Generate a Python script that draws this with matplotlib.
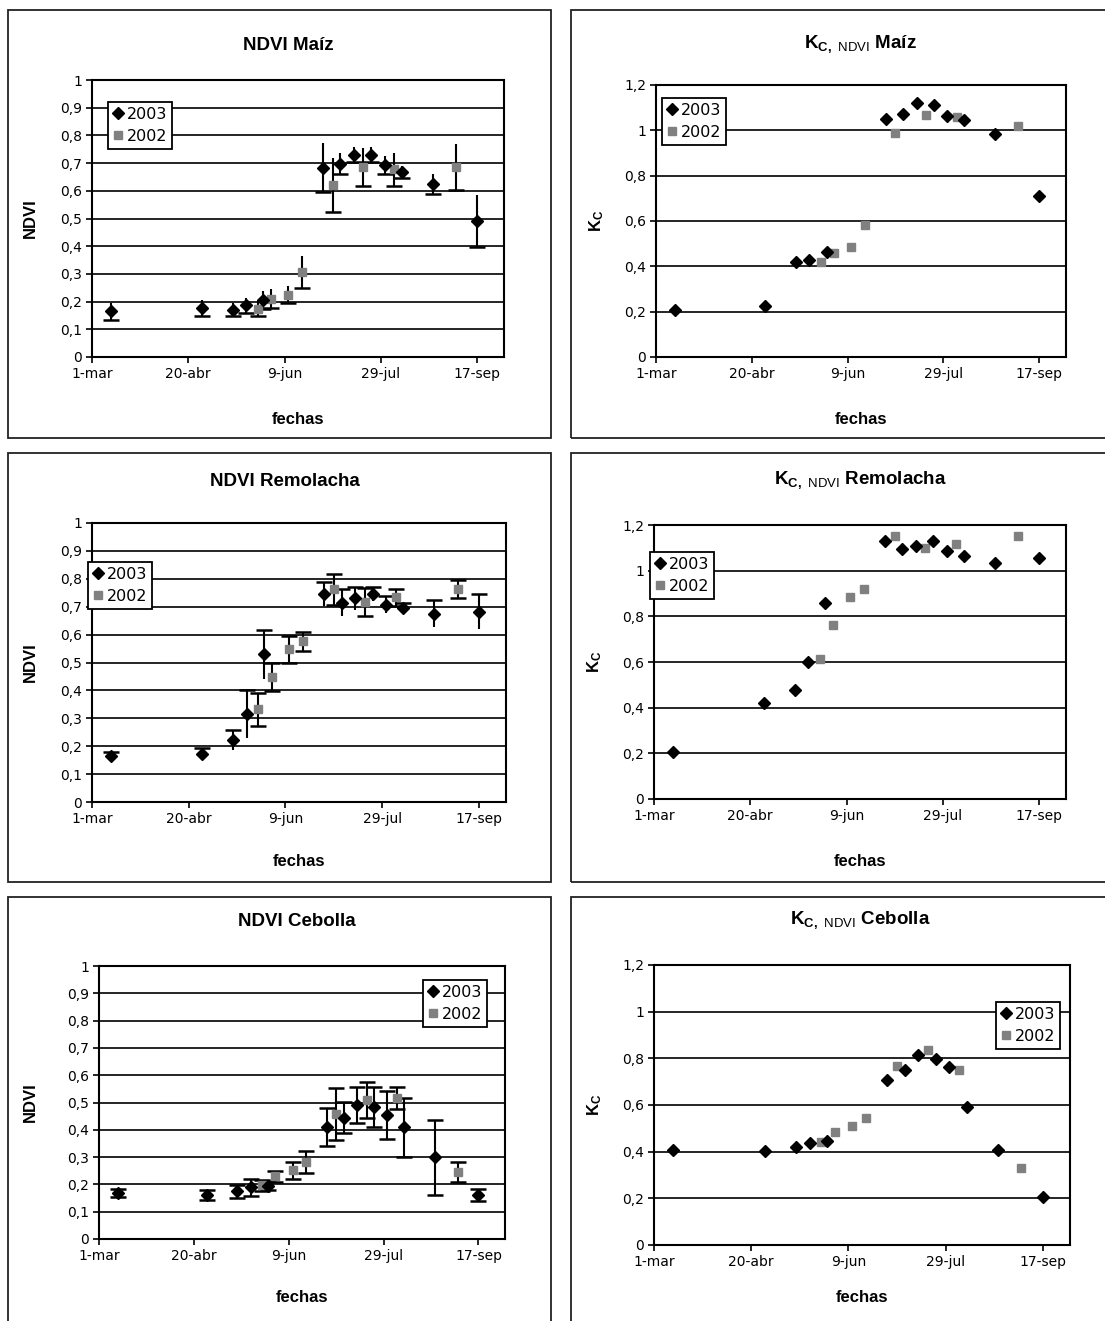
import numpy as np
import matplotlib.pyplot as plt
from matplotlib.patches import Rectangle

plt.rcParams['font.family'] = ['DejaVu Sans']
plt.rcParams['mathtext.fontset'] = 'custom'
plt.rcParams['mathtext.rm'] = 'Liberation Sans'
plt.rcParams['mathtext.bf'] = 'Liberation Sans:bold'

# fechas (dias desde 1-mar)
dates_2003 = np.array([10, 57, 73, 80, 89, 120, 129, 136, 145, 152, 161, 177, 200])
dates_2002 = np.array([86, 93, 102, 109, 125, 141, 157, 189])
xticks = [0, 50, 100, 150, 200]
xticklabels = ['1-mar', '20-abr', '9-jun', '29-jul', '17-sep']

# NDVI maiz
ndvi_maiz_2003 = [0.165, 0.177, 0.171, 0.186, 0.205, 0.683, 0.698, 0.731, 0.731, 0.692, 0.669, 0.625, 0.49]
err_maiz_2003 = [0.03, 0.029, 0.023, 0.028, 0.032, 0.088, 0.039, 0.026, 0.026, 0.033, 0.022, 0.036, 0.094]
ndvi_maiz_2002 = [0.175, 0.211, 0.225, 0.306, 0.62, 0.686, 0.677, 0.686]
err_maiz_2002 = [0.026, 0.034, 0.03, 0.057, 0.097, 0.067, 0.058, 0.084]

# Kc maiz
kc_maiz_2003 = [0.209, 0.226, 0.42, 0.429, 0.465, 1.051, 1.072, 1.122, 1.113, 1.065, 1.044, 0.984, 0.709]
kc_maiz_2002 = [0.418, 0.46, 0.485, 0.582, 0.988, 1.068, 1.059, 1.021]

# NDVI remolacha
ndvi_rem_2003 = [0.164, 0.172, 0.222, 0.314, 0.529, 0.744, 0.714, 0.73, 0.747, 0.707, 0.695, 0.675, 0.682]
err_rem_2003 = [0.016, 0.022, 0.035, 0.086, 0.089, 0.043, 0.048, 0.041, 0.025, 0.03, 0.019, 0.048, 0.062]
ndvi_rem_2002 = [0.332, 0.448, 0.547, 0.576, 0.762, 0.717, 0.734, 0.762]
err_rem_2002 = [0.06, 0.05, 0.048, 0.034, 0.055, 0.05, 0.03, 0.032]

# Kc remolacha
kc_rem_2003 = [0.208, 0.419, 0.479, 0.6, 0.86, 1.131, 1.096, 1.106, 1.132, 1.087, 1.063, 1.035, 1.054]
kc_rem_2002 = [0.613, 0.761, 0.884, 0.918, 1.153, 1.1, 1.118, 1.153]

# NDVI cebolla
ndvi_ceb_2003 = [0.168, 0.161, 0.174, 0.189, 0.195, 0.41, 0.445, 0.491, 0.483, 0.454, 0.41, 0.299, 0.161]
err_ceb_2003 = [0.015, 0.018, 0.025, 0.03, 0.016, 0.07, 0.057, 0.066, 0.073, 0.087, 0.108, 0.138, 0.022]
ndvi_ceb_2002 = [0.196, 0.229, 0.251, 0.283, 0.457, 0.509, 0.515, 0.245]
err_ceb_2002 = [0.02, 0.02, 0.03, 0.04, 0.095, 0.065, 0.04, 0.037]

# Kc cebolla
kc_ceb_2003 = [0.408, 0.401, 0.42, 0.437, 0.444, 0.709, 0.752, 0.815, 0.797, 0.762, 0.592, 0.408, 0.205]
kc_ceb_2002 = [0.44, 0.483, 0.509, 0.543, 0.766, 0.835, 0.751, 0.328]

W, H = 1105, 1321
fig = plt.figure(figsize=(W / 100, H / 100), dpi=100)
fig.patch.set_facecolor('white')

# marcos de cada grafico (pixeles)
boxes = [(8, 10, 551, 438), (571, 10, 1112, 438),
         (8, 453, 551, 882), (571, 453, 1112, 882),
         (8, 897, 551, 1330), (571, 897, 1112, 1330)]
for x0, y0, x1, y1 in boxes:
    fig.patches.append(Rectangle((x0 / W, 1 - y1 / H), (x1 - x0) / W, (y1 - y0) / H,
                                 transform=fig.transFigure, fill=False,
                                 edgecolor='#222222', linewidth=1.3))


def make_ax(l, t, r, b):
    return fig.add_axes([l / W, 1 - b / H, (r - l) / W, (b - t) / H])


def style(ax, ymax, ystep, ylab, title, tx, ty, yl_x, xl_y):
    ax.set_xlim(0, 214)
    ax.set_ylim(0, ymax)
    ax.set_xticks(xticks)
    ax.set_xticklabels(xticklabels, fontsize=10)
    yt = np.round(np.arange(0, ymax + 1e-9, ystep), 2)
    ax.set_yticks(yt)
    ax.set_yticklabels([('%g' % v).replace('.', ',') for v in yt], fontsize=10)
    ax.yaxis.grid(True, color='black', linewidth=1.2)
    ax.set_axisbelow(True)
    ax.tick_params(direction='out', length=4, width=1.2, pad=3)
    for s in ax.spines.values():
        s.set_linewidth(1.5)
    fig.text(tx / W, 1 - ty / H, title, ha='center', va='center',
             fontsize=13.5, fontweight='bold', family='Liberation Sans')
    pos = ax.get_position()
    fig.text(yl_x / W, pos.y0 + pos.height / 2, ylab, rotation=90, ha='center', va='center',
             fontsize=12, fontweight='bold', family='Liberation Sans')
    fig.text(pos.x0 + pos.width / 2, 1 - xl_y / H, 'fechas', ha='center', va='center',
             fontsize=12, fontweight='bold', family='Liberation Sans')


def errs(ax, x, y, e, caps):
    y = np.array(y)
    e = np.array(e)
    ax.vlines(x, y - e, y + e, color='black', linewidth=1.5, zorder=3)
    if caps in ('low', 'both'):
        ax.plot(x, y - e, '_', color='black', ms=11, mew=1.8, zorder=3)
    if caps in ('high', 'both'):
        ax.plot(x, y + e, '_', color='black', ms=11, mew=1.8, zorder=3)


def points(ax, y03, y02):
    ax.plot(dates_2002, y02, 's', color='#808080', ms=6, label='2002', zorder=4)
    ax.plot(dates_2003, y03, 'D', color='black', ms=6.5, label='2003', zorder=5)


def legend(ax, x0, y0):
    h, l = ax.get_legend_handles_labels()
    leg = ax.legend(h[::-1], l[::-1], loc='upper left', bbox_to_anchor=(x0 / W, 1 - y0 / H),
                    bbox_transform=fig.transFigure, borderaxespad=0, fancybox=False,
                    framealpha=1, edgecolor='black', fontsize=11.5, handlelength=0.6,
                    handletextpad=0.3, borderpad=0.3, labelspacing=0.45)
    leg.get_frame().set_linewidth(1.3)


kc_label = r'$\mathbf{K_C}$'

# NDVI Maiz
ax = make_ax(92, 80, 504, 357)
errs(ax, dates_2003, ndvi_maiz_2003, err_maiz_2003, 'low')
errs(ax, dates_2002, ndvi_maiz_2002, err_maiz_2002, 'low')
points(ax, ndvi_maiz_2003, ndvi_maiz_2002)
style(ax, 1.0, 0.1, 'NDVI', 'NDVI Maíz', 288, 45, 30, 420)
legend(ax, 108, 102)

# Kc Maiz
ax = make_ax(656, 85, 1066, 357)
points(ax, kc_maiz_2003, kc_maiz_2002)
style(ax, 1.2, 0.2, kc_label, r'$\mathbf{K}_{\mathbf{C,}\ \mathrm{NDVI}}$ Maíz', 860, 45, 597, 420)
legend(ax, 662, 98)

# NDVI Remolacha
ax = make_ax(92, 523, 506, 802)
errs(ax, dates_2003, ndvi_rem_2003, err_rem_2003, 'high')
errs(ax, dates_2002, ndvi_rem_2002, err_rem_2002, 'both')
points(ax, ndvi_rem_2003, ndvi_rem_2002)
style(ax, 1.0, 0.1, 'NDVI', 'NDVI Remolacha', 285, 481, 30, 862)
legend(ax, 88, 562)

# Kc Remolacha
ax = make_ax(654, 525, 1066, 799)
points(ax, kc_rem_2003, kc_rem_2002)
style(ax, 1.2, 0.2, kc_label, r'$\mathbf{K}_{\mathbf{C,}\ \mathrm{NDVI}}$ Remolacha', 860, 481, 595, 862)
legend(ax, 650, 552)

# NDVI Cebolla
ax = make_ax(99, 966, 505, 1239)
errs(ax, dates_2003, ndvi_ceb_2003, err_ceb_2003, 'both')
errs(ax, dates_2002, ndvi_ceb_2002, err_ceb_2002, 'both')
points(ax, ndvi_ceb_2003, ndvi_ceb_2002)
style(ax, 1.0, 0.1, 'NDVI', 'NDVI Cebolla', 297, 921, 30, 1297)
legend(ax, 423, 980)

# Kc Cebolla
ax = make_ax(654, 965, 1070, 1245)
points(ax, kc_ceb_2003, kc_ceb_2002)
style(ax, 1.2, 0.2, kc_label, r'$\mathbf{K}_{\mathbf{C,}\ \mathrm{NDVI}}$ Cebolla', 860, 921, 595, 1297)
legend(ax, 996, 1002)

fig.savefig('out.png', dpi=100)
